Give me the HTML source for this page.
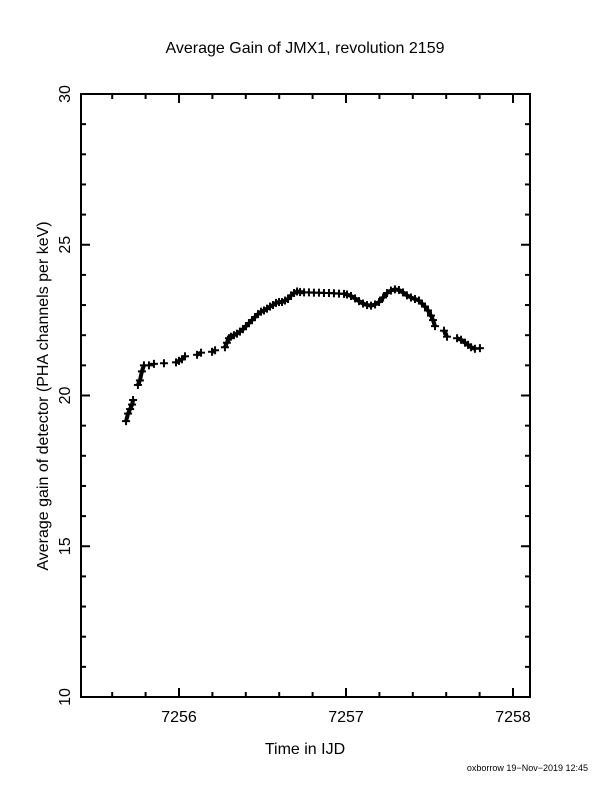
<!DOCTYPE html>
<html><head><meta charset="utf-8"><style>
body{margin:0;background:#fff}
svg text{font-family:"Liberation Sans",sans-serif;fill:#000}
</style></head><body>
<svg id="chart" width="612" height="792" viewBox="0 0 612 792">
<text x="305" y="53" font-size="16" text-anchor="middle">Average Gain of JMX1, revolution 2159</text>
<rect x="81" y="94" width="449" height="603" fill="none" stroke="#000" stroke-width="2"/>
<g id="ticks"></g>
<g id="marks"></g>
<text x="305" y="754" font-size="16" text-anchor="middle">Time in IJD</text>
<text transform="translate(48,396) rotate(-90)" font-size="16" text-anchor="middle">Average gain of detector (PHA channels per keV)</text>
<text x="588" y="771" font-size="9" text-anchor="end">oxborrow 19−Nov−2019 12:45</text>
</svg>
<script>
const xTickLabels=["7256","7257","7258"];
const yTickLabels=["10","15","20","25","30"];
const times=[7255.683,7255.695,7255.707,7255.719,7255.725,7255.754,7255.766,7255.778,7255.790,7255.820,7255.850,7255.910,7255.982,7256.000,7256.018,7256.036,7256.108,7256.132,7256.198,7256.216,7256.275,7256.287,7256.299,7256.311,7256.329,7256.347,7256.365,7256.383,7256.401,7256.419,7256.437,7256.455,7256.473,7256.491,7256.509,7256.527,7256.545,7256.563,7256.581,7256.599,7256.617,7256.635,7256.653,7256.671,7256.689,7256.707,7256.725,7256.749,7256.778,7256.808,7256.838,7256.868,7256.898,7256.928,7256.958,7256.988,7257.006,7257.030,7257.054,7257.078,7257.102,7257.126,7257.150,7257.174,7257.198,7257.222,7257.246,7257.269,7257.293,7257.317,7257.341,7257.365,7257.389,7257.413,7257.437,7257.455,7257.473,7257.491,7257.509,7257.521,7257.533,7257.587,7257.605,7257.665,7257.689,7257.713,7257.731,7257.749,7257.772,7257.802];
const gains=[19.15,19.4,19.55,19.7,19.85,20.35,20.5,20.8,21.0,21.0,21.05,21.07,21.1,21.15,21.2,21.3,21.35,21.42,21.45,21.5,21.6,21.75,21.9,21.95,22.0,22.05,22.12,22.2,22.3,22.4,22.5,22.6,22.7,22.78,22.82,22.88,22.95,23.0,23.07,23.1,23.1,23.15,23.2,23.32,23.4,23.45,23.43,23.42,23.42,23.41,23.41,23.4,23.4,23.39,23.38,23.37,23.35,23.3,23.22,23.13,23.05,23.0,22.98,23.02,23.1,23.25,23.4,23.48,23.52,23.5,23.42,23.32,23.25,23.2,23.15,23.05,22.95,22.82,22.65,22.5,22.3,22.15,21.95,21.9,21.85,21.75,21.68,21.6,21.55,21.57];
const X0=81,X1=530,Y0=697,Y1=94,TMIN=7255.4132,TMAX=7258.1018,GMIN=10,GMAX=30;
function xs(t){return X0+(t-TMIN)/(TMAX-TMIN)*(X1-X0);}
function ys(g){return Y0-(g-GMIN)/(GMAX-GMIN)*(Y0-Y1);}
const NS="http://www.w3.org/2000/svg";
const tk=document.getElementById('ticks'),mk=document.getElementById('marks');
function line(p,x1,y1,x2,y2,w){const l=document.createElementNS(NS,'line');l.setAttribute('x1',x1);l.setAttribute('y1',y1);l.setAttribute('x2',x2);l.setAttribute('y2',y2);l.setAttribute('stroke','#000');l.setAttribute('stroke-width',w);p.appendChild(l);return l;}
for(let i=0;i<=13;i++){const t=7255.6+i*0.2;if(t>TMAX)break;const x=xs(t);const major=Math.abs(t-Math.round(t))<1e-6;const L=major?9:5;
 let a=line(tk,x,Y0,x,Y0-L,2);
 
 
 let b=line(tk,x,Y1,x,Y1+L,2);
 
 }
xTickLabels.forEach(s=>{const e=document.createElementNS(NS,'text');e.setAttribute('x',xs(+s));e.setAttribute('y',722);e.setAttribute('font-size','16');e.setAttribute('text-anchor','middle');e.textContent=s;
 
 
 tk.appendChild(e);});
for(let g=10;g<=30;g++){const y=ys(g);const L=(g%5===0)?9:5;
 let a=line(tk,X0,y,X0+L,y,2);
 
 
 let b=line(tk,X1,y,X1-L,y,2);
 
 }
yTickLabels.forEach(s=>{const e=document.createElementNS(NS,'text');const y=ys(+s);e.setAttribute('transform','translate(70,'+y+') rotate(-90)');e.setAttribute('font-size','16');e.setAttribute('text-anchor','middle');e.textContent=s;
 
 
 tk.appendChild(e);});
for(let i=1;i<times.length;i++){if(times[i]-times[i-1]<0.026){const l=line(mk,xs(times[i-1]),ys(gains[i-1]),xs(times[i]),ys(gains[i]),4);
 
 }}
for(let i=0;i<times.length;i++){const x=xs(times[i]),y=ys(gains[i]);const g=document.createElementNS(NS,'g');
 
 
 line(g,x-4,y,x+4,y,2);line(g,x,y-4,x,y+4,2);mk.appendChild(g);}
</script>
</body></html>
